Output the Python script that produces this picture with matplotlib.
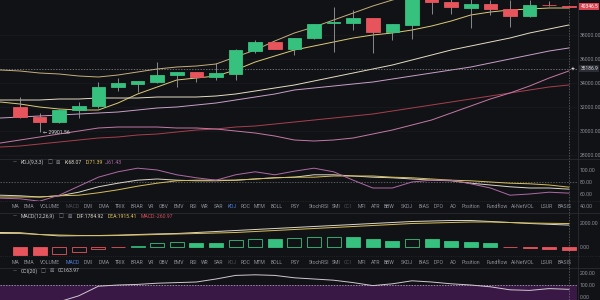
import matplotlib
matplotlib.use("Agg")
import matplotlib.pyplot as plt
from matplotlib.lines import Line2D

# ---- candles (index 0..28) ----
opens = [32000, 31167, 30750, 31750, 32083, 33667, 33917, 34083, 34667, 34917,
         34500, 34750, 36667, 37417, 36833, 37750, 39000, 39000, 39417, 38250,
         38833, 41100, 40750, 40250, 40583, 40167, 39583, 40520, 40400]
highs = [32833, 31500, 31800, 32417, 34083, 34417, 34167, 35750, 34950, 34950,
         35667, 36800, 37583, 37450, 37750, 38950, 40333, 40083, 39450, 38950,
         41200, 41250, 41000, 41000, 40917, 40900, 40900, 40850, 40417]
lows = [31083, 29901.56, 30700, 31083, 31917, 33333, 33250, 34000, 33667, 34083,
        34250, 34250, 36500, 36800, 36333, 37700, 36583, 38417, 36500, 37583,
        37667, 39750, 39750, 38583, 39667, 38667, 39500, 40450, 40300]
closes = [31167, 30750, 31750, 32083, 33667, 34000, 34167, 34667, 34917, 34500,
          34833, 36750, 37417, 36833, 37750, 38917, 39050, 39417, 38250, 38917,
          41100, 40750, 40333, 40583, 40167, 39583, 40500, 40500, 40346.5]

# ---- overlay lines on price panel (index -1..28) ----
boll_up = [35083, 35000, 34833, 34750, 34583, 34500, 34667, 34917, 35167, 35333,
           35417, 35583, 36167, 36750, 37500, 38167, 38667, 39250, 39833, 40417,
           40917, 41333, 41667, 41917, 42167, 42333, 42500, 42667, 42750, 42833]
ma_fast = [32417, 32250, 32000, 31833, 31750, 31750, 32333, 33083, 33667, 34250,
           34417, 34583, 35083, 35750, 36250, 36750, 37083, 37417, 37750, 38000,
           38167, 38417, 38750, 39167, 39667, 39917, 40083, 40167, 40250, 40250]
ma_mid = [32583, 32583, 32583, 32667, 32667, 32750, 32750, 32750, 32833, 32833,
          32833, 32917, 33083, 33333, 33583, 33833, 34167, 34500, 34833, 35167,
          35500, 35917, 36333, 36750, 37083, 37417, 37750, 38167, 38500, 38833]
ma_slow = [31083, 31167, 31250, 31333, 31417, 31500, 31583, 31750, 31917, 32000,
           32167, 32333, 32583, 32833, 33083, 33417, 33583, 33750, 33917, 34083,
           34333, 34583, 34833, 35083, 35333, 35667, 36000, 36333, 36667, 36917]
ma_long = [28667, 28750, 28917, 29083, 29250, 29417, 29500, 29667, 29750, 29917,
           30083, 30167, 30333, 30417, 30583, 30750, 30917, 31083, 31250, 31417,
           31667, 31917, 32167, 32417, 32667, 32917, 33167, 33417, 33667, 33833]
boll_low = [29000, 29250, 29500, 29750, 30000, 30250, 30333, 30333, 30333, 30250,
            30250, 30167, 30000, 29833, 29583, 29250, 29167, 29250, 29417, 29750,
            30083, 30500, 30917, 31500, 32083, 32667, 33167, 33750, 34417, 35000]

# ---- KDJ (index -1..28) ----
kdj_k = [58, 57, 55, 57, 63, 72, 78, 83, 85, 83, 82, 82, 83, 85, 87, 88, 92, 92,
         90, 88, 87, 85, 83, 82, 78, 75, 72, 70, 70, 68.07]
kdj_d = [55, 55, 55, 57, 58, 62, 67, 73, 78, 82, 83, 83, 83, 85, 87, 88, 88, 90,
         90, 90, 88, 87, 85, 83, 82, 80, 78, 77, 75, 71.39]
kdj_j = [53, 52, 48, 58, 73, 88, 97, 103, 100, 92, 87, 83, 92, 97, 92, 98, 103, 97,
         83, 70, 70, 80, 83, 83, 77, 70, 58, 60, 63, 61.43]

# ---- MACD ----
macd_dif = [1167, 1150, 1000, 883, 900, 917, 950, 1000, 1050, 1083, 1167, 1250,
            1333, 1417, 1500, 1583, 1667, 1750, 1833, 1917, 2000, 2083, 2125, 2167,
            2167, 2083, 2000, 1917, 1850, 1784.92]
macd_dea = [1083, 1083, 1000, 958, 917, 900, 917, 958, 1000, 1042, 1083, 1125,
            1167, 1250, 1333, 1417, 1500, 1583, 1667, 1750, 1833, 1917, 1958, 2000,
            2042, 2042, 2000, 1958, 1933, 1915.41]
macd_hist = [-680, -710, -625, -460, -210, -40, 50, 290, 375, 290, 280, 540, 625,
             610, 700, 790, 800, 780, 625, 460, 625, 610, 460, 375, 290, -40, -100,
             -210, -260.97]

# ---- CCI ----
cci = [-60, -50, -80, -40, 10, 90, 100, 105, 115, 120, 125, 150, 180, 185, 180,
       160, 150, 140, 120, 95, 110, 135, 125, 110, 100, 85, 60, 55, 70, 63.97]

price_ticks = [28000, 30000, 32000, 34000, 36000, 38000]
kdj_ticks = [40, 60, 80, 100]
macd_ticks = [0, 2000]
cci_ticks = [0, 100, 200]
last_price = 40346.5
cross_price = 35186.9
low_label = "29901.56"

tabs = ["MA", "EMA", "VOLUME", "MACD", "DMI", "DMA", "TRIX", "BRAR", "VR", "OBV",
        "EMV", "RSI", "WR", "SAR", "KDJ", "ROC", "MTM", "BOLL", "PSY", "StochRSI",
        "SMI", "CCI", "MFI", "ATR", "BBW", "SKDJ", "BIAS", "DPO", "AO", "Position",
        "Fundflow", "AI-NetVOL", "LSUR", "BASIS"]
tab_x = [15, 29, 50, 73, 88, 104, 120, 137, 151, 164, 179, 193, 205, 219, 232,
         246, 260, 277, 295, 319, 336, 348, 362, 376, 389, 407, 424, 439, 453, 471,
         497, 523, 547, 565]

BG = "#111216"
GREEN = "#36c27e"
RED = "#e8545c"
TXT = "#8b8f97"
FS = 3.7
plt.rcParams['font.family'] = ['Roboto', 'DejaVu Sans']

fig = plt.figure(figsize=(6, 3), dpi=100, facecolor=BG)

idx_c = list(range(len(closes)))
idx_l = list(range(-1, len(closes)))


def panel(top, bottom, ticks=None, ylim=None):
    ax = fig.add_axes([0, 1 - bottom / 300, 577 / 600, (bottom - top) / 300])
    ax.set_facecolor(BG)
    for s in ax.spines.values():
        s.set_visible(False)
    ax.set_xlim(-1.02, 28.42)
    ax.set_xticks([])
    if ylim:
        ax.set_ylim(*ylim)
    ax.yaxis.tick_right()
    ax.set_yticks(ticks if ticks else [])
    ax.set_yticklabels(["%.2f" % t for t in ticks] if ticks else [])
    ax.tick_params(axis='y', length=0, labelsize=FS, labelcolor=TXT, pad=2)
    ax.axvline(28, color="#9a9a9a", lw=0.5, ls=(0, (2, 2)), alpha=0.7)
    return ax


# main price panel
ax = panel(0, 159, price_ticks, (27667, 40917))
for t in price_ticks:
    ax.axhline(t, color="#1b1c21", lw=0.5, zorder=0)
for line, col in [(boll_up, "#c6b07c"), (ma_fast, "#dccb78"), (ma_mid, "#e6dcc4"),
                  (ma_slow, "#c8a0c8"), (ma_long, "#a8404e"), (boll_low, "#c47aa6")]:
    ax.plot(idx_l, line, color=col, lw=0.7, zorder=2)
for i in idx_c:
    col = GREEN if closes[i] >= opens[i] else RED
    ax.vlines(i, lows[i], highs[i], color="#9a9c9f", lw=0.6, zorder=3)
    ax.bar(i, closes[i] - opens[i], bottom=opens[i], width=0.7, color=col,
           edgecolor=col, lw=0.6, zorder=4)
ax.axhline(cross_price, color="#b0b0b0", lw=0.5, ls=(0, (2, 2)), alpha=0.8)
ax.text(1.15, 29901.56, "\u2190 " + low_label, fontsize=FS, color="#d8d8d8",
        ha='left', va='center')
ax.annotate("%.1f" % last_price, xy=(1.006, last_price),
            xycoords=('axes fraction', 'data'), fontsize=3.5, color="white",
            ha='left', va='center', annotation_clip=False,
            bbox=dict(boxstyle="square,pad=0.2", fc="#d9434f", ec="none"))
ax.annotate("%.1f" % cross_price, xy=(1.006, cross_price),
            xycoords=('axes fraction', 'data'), fontsize=3.5, color="#dddddd",
            ha='left', va='center', annotation_clip=False,
            bbox=dict(boxstyle="square,pad=0.2", fc="#2a2d35", ec="none"))
ax.annotate("+", xy=(0.993, cross_price), xycoords=('axes fraction', 'data'),
            fontsize=5, color="#dddddd", ha='center', va='center',
            annotation_clip=False)

# KDJ panel
ak = panel(159, 209, kdj_ticks, (35, 118.3))
ak.axhline(80, color="#777", lw=0.5, ls=(0, (2, 2)))
ak.plot(idx_l, kdj_k, color="#dcd6c8", lw=0.7)
ak.plot(idx_l, kdj_d, color="#d8bf5a", lw=0.7)
ak.plot(idx_l, kdj_j, color="#b06aa6", lw=0.7)

# tab row 1
at1 = panel(201, 213)

# MACD panel
am = panel(213, 257, macd_ticks, (-875, 2792))
am.plot(idx_l, macd_dif, color="#dcd6c8", lw=0.7)
am.plot(idx_l, macd_dea, color="#d8bf5a", lw=0.7)
for i, v in enumerate(macd_hist):
    col = GREEN if v >= 0 else RED
    filled = i == 0 or v < macd_hist[i - 1]
    am.bar(i, v, width=0.72, color=col if filled else BG, edgecolor=col,
           lw=0.6)

# tab row 2
at2 = panel(256, 268)

# CCI panel
ac = panel(268, 300, cci_ticks, (-25, 241.7))
ac.axhspan(-100, 100, color="#3a1846", lw=0)
ac.axhline(100, color="#bbbbbb", lw=0.5, ls=(0, (2, 2)))
ac.plot(idx_l, cci, color="#d2c8d2", lw=0.7)

# tab labels
for row_y, active, dim in [(207, "KDJ", ["MACD", "CCI"]),
                           (262, "MACD", ["KDJ", "CCI"])]:
    for name, x in zip(tabs, tab_x):
        c = "#4d7fd6" if name == active else ("#4a4c52" if name in dim else TXT)
        fig.text(x / 600, 1 - row_y / 300, name, fontsize=FS, color=c,
                 ha='center', va='center')


def legend_row(y, parts):
    fig.text(13 / 600, 1 - y / 300, "\u2014", fontsize=FS, color=TXT,
             ha='left', va='center')
    for x, s, c in parts:
        fig.text(x / 600, 1 - y / 300, s, fontsize=FS, color=c,
                 ha='left', va='center')


legend_row(162, [(21, "KDJ(9,3,3)", "#c9c9c9"), (48, "\u25a1", TXT),
                 (56, "\u22a0", TXT), (65, "K:68.07", "#dcd6c8"),
                 (86, "D:71.39", "#e0c55a"), (105, "J:61.43", "#b06aa6")])
legend_row(216, [(21, "MACD(12,26,9)", "#c9c9c9"), (59, "\u25a1", TXT),
                 (67, "\u22a0", TXT), (77, "DIF:1784.92", "#dcd6c8"),
                 (108, "DEA:1915.41", "#e0c55a"), (141, "MACD:-260.97", "#d2505c")])
legend_row(271, [(21, "CCI(20)", "#c9c9c9"), (41, "\u25a1", TXT),
                 (49, "\u22a0", TXT), (58, "CCI:63.97", "#c9c9c9")])

# separators
for y, ls in [(159, '-'), (201, ':'), (213, '-'), (256, ':'), (268, '-')]:
    fig.add_artist(Line2D([0, 1], [1 - y / 300, 1 - y / 300], color="#2a2c31",
                          lw=0.6, ls=ls))
fig.add_artist(Line2D([578 / 600, 578 / 600], [0, 1], color="#2a2c31", lw=0.6))

fig.savefig("out.png", dpi=100, facecolor=BG)
